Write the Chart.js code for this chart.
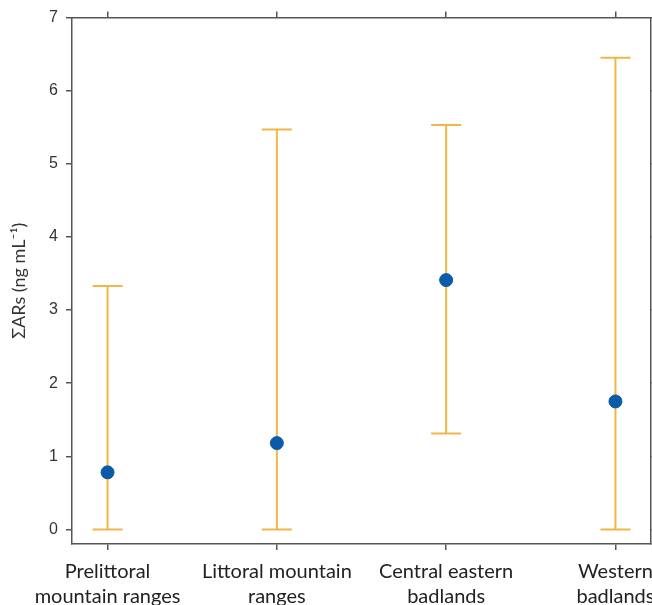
<!DOCTYPE html>
<html>
<head>
<meta charset="utf-8">
<script src="https://cdn.jsdelivr.net/npm/chart.js@4/dist/chart.umd.min.js"></script>
<style>
  html, body { margin: 0; padding: 0; background: #fff; overflow: hidden; }
  #wrap { width: 652px; height: 605px; overflow: hidden; position: relative; }
  #box { width: 720px; height: 640px; }
</style>
</head>
<body>
<div id="wrap"><div id="box"><canvas id="myChart"></canvas></div></div>
<script>
// data
const categories = [
    ['Prelittoral', 'mountain ranges'],
    ['Littoral mountain', 'ranges'],
    ['Central eastern', 'badlands'],
    ['Western', 'badlands']
];
const meanValues = [0.78, 1.18, 3.41, 1.75];
const lowValues = [0, 0, 1.31, 0];
const highValues = [3.33, 5.47, 5.53, 6.45];
const yTicks = [0, 1, 2, 3, 4, 5, 6, 7];

const barColor = '#F0B648';
const dotColor = '#0B5BA8';
const axisColor = '#555555';

// error bars drawn before the points
const errorBars = {
    id: 'errorBars',
    beforeDatasetsDraw(chart) {
        const ctx = chart.ctx;
        const x = chart.scales.x;
        const y = chart.scales.y;
        const cap = 15;
        ctx.save();
        ctx.strokeStyle = barColor;
        ctx.lineWidth = 2;
        meanValues.forEach((m, i) => {
            const px = x.getPixelForValue(i);
            const top = y.getPixelForValue(highValues[i]);
            const bot = y.getPixelForValue(lowValues[i]);
            ctx.beginPath();
            ctx.moveTo(px, top); ctx.lineTo(px, bot);
            ctx.moveTo(px - cap, top); ctx.lineTo(px + cap, top);
            ctx.moveTo(px - cap, bot); ctx.lineTo(px + cap, bot);
            ctx.stroke();
        });
        ctx.restore();
    }
};

const catTicks = scale => { scale.ticks = categories.map((c, i) => ({ value: i })); };
const numTicks = scale => { scale.ticks = yTicks.map(v => ({ value: v })); };
const axisGrid = { drawOnChartArea: false, drawTicks: true, tickLength: 6, color: axisColor, lineWidth: 1.5 };
const axisBorder = { display: true, color: axisColor, width: 1.5 };

new Chart(document.getElementById('myChart'), {
    type: 'scatter',
    data: {
        datasets: [{
            data: meanValues.map((m, i) => ({ x: i, y: m })),
            backgroundColor: dotColor,
            borderColor: dotColor,
            pointRadius: 6.5,
            pointHoverRadius: 6.5
        }]
    },
    options: {
        responsive: true,
        maintainAspectRatio: false,
        animation: false,
        layout: { padding: 0 },
        plugins: { legend: { display: false }, tooltip: { enabled: false } },
        scales: {
            x: {
                type: 'linear', position: 'bottom', min: -0.21, max: 3.21,
                afterBuildTicks: catTicks,
                afterFit: s => { s.height = 96; },
                grid: axisGrid, border: axisBorder,
                ticks: {
                    autoSkip: false, maxRotation: 0, padding: 9,
                    color: '#222', font: { family: 'Lato', size: 20, lineHeight: 1.25 },
                    callback: v => categories[v]
                }
            },
            x2: {
                type: 'linear', position: 'top', min: -0.21, max: 3.21,
                afterBuildTicks: catTicks,
                afterFit: s => { s.height = 17; },
                grid: axisGrid, border: axisBorder,
                ticks: { display: false }
            },
            y: {
                type: 'linear', position: 'left', min: -0.2, max: 7,
                afterBuildTicks: numTicks,
                afterFit: s => { s.width = 72; },
                grid: axisGrid, border: axisBorder,
                ticks: { color: '#333', padding: 8, font: { family: 'Liberation Sans', size: 16 } },
                title: {
                    display: true, text: 'ΣARs (ng mL⁻¹)', color: '#333',
                    font: { family: 'Lato', size: 18 }, padding: { top: 8, bottom: 0 }
                }
            },
            y2: {
                type: 'linear', position: 'right', min: -0.2, max: 7,
                afterBuildTicks: numTicks,
                afterFit: s => { s.width = 69; },
                grid: axisGrid, border: axisBorder,
                ticks: { display: false }
            }
        }
    },
    plugins: [errorBars]
});
</script>
</body>
</html>
